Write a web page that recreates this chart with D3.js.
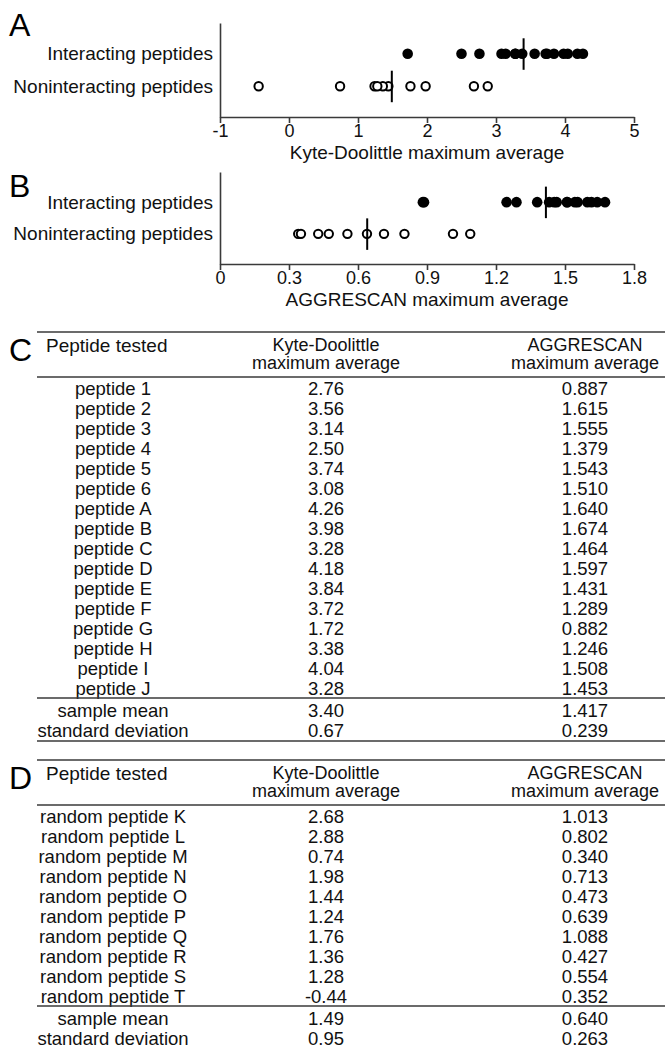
<!DOCTYPE html>
<html>
<head>
<meta charset="utf-8">
<script src="https://cdn.jsdelivr.net/npm/d3@7/dist/d3.min.js"></script>
<style>
  body { margin: 0; background: #fff; }
  svg { display: block; font-family: "Liberation Sans", Arial, sans-serif; }
</style>
</head>
<body>
<div id="figura"></div>
<script>
// categorias dos graficos A e B
const categorias = ["Interacting peptides", "Noninteracting peptides"];

// peptideos que interagem (tabela C)
const nomesInteragem = ["peptide 1", "peptide 2", "peptide 3", "peptide 4", "peptide 5", "peptide 6",
    "peptide A", "peptide B", "peptide C", "peptide D", "peptide E", "peptide F",
    "peptide G", "peptide H", "peptide I", "peptide J"];
const kdInteragem = [2.76, 3.56, 3.14, 2.50, 3.74, 3.08, 4.26, 3.98, 3.28, 4.18, 3.84, 3.72, 1.72, 3.38, 4.04, 3.28];
const aggInteragem = [0.887, 1.615, 1.555, 1.379, 1.543, 1.510, 1.640, 1.674, 1.464, 1.597, 1.431, 1.289, 0.882, 1.246, 1.508, 1.453];

// peptideos aleatorios (tabela D)
const nomesAleatorios = ["random peptide K", "random peptide L", "random peptide M", "random peptide N",
    "random peptide O", "random peptide P", "random peptide Q", "random peptide R",
    "random peptide S", "random peptide T"];
const kdAleatorios = [2.68, 2.88, 0.74, 1.98, 1.44, 1.24, 1.76, 1.36, 1.28, -0.44];
const aggAleatorios = [1.013, 0.802, 0.340, 0.713, 0.473, 0.639, 1.088, 0.427, 0.554, 0.352];

// linhas de resumo
const resumoRotulos = ["sample mean", "standard deviation"];
const kdResumoInteragem = [3.40, 0.67];
const aggResumoInteragem = [1.417, 0.239];
const kdResumoAleatorios = [1.49, 0.95];
const aggResumoAleatorios = [0.640, 0.263];

// ticks dos eixos
const kdTicks = [-1, 0, 1, 2, 3, 4, 5];
const aggTicks = [0, 0.3, 0.6, 0.9, 1.2, 1.5, 1.8];

const largura = 665;
const altura = 1051;
const corEixo = "#3a3a3a";

const svg = d3.select("#figura")
    .append("svg")
    .attr("width", largura)
    .attr("height", altura)
    .style("background", "#fff");

// grafico de pontos (A e B)
function criarDotPlot(letra, yLetra, topo, base, dominio, ticks, titulo, valores, medias) {
    const x = d3.scaleLinear().domain(dominio).range([220, 634]);
    const y = d3.scalePoint().domain(categorias).range([topo, base]).padding(0.95);

    svg.append("text")
        .attr("x", 9)
        .attr("y", yLetra)
        .style("font-size", "32px")
        .text(letra);

    // eixo y so com os rotulos
    const eixoY = svg.append("g")
        .attr("transform", `translate(${x.range()[0]},0)`)
        .call(d3.axisLeft(y).tickSize(0).tickPadding(7));
    eixoY.select(".domain").attr("stroke", corEixo).attr("stroke-width", 1.6);
    eixoY.selectAll("text")
        .attr("fill", "#111")
        .style("font-size", "19px")
        .style("font-family", "'Liberation Sans', Arial, sans-serif");

    // eixo x
    const eixoX = svg.append("g")
        .attr("transform", `translate(0,${base})`)
        .call(d3.axisBottom(x).tickValues(ticks).tickFormat(d => String(d)).tickSize(6).tickSizeOuter(0).tickPadding(1));
    eixoX.select(".domain").attr("stroke", corEixo).attr("stroke-width", 1.6);
    eixoX.selectAll(".tick line").attr("stroke", corEixo).attr("stroke-width", 1.6);
    eixoX.selectAll("text")
        .attr("fill", "#111")
        .style("font-size", "18px")
        .style("font-family", "'Liberation Sans', Arial, sans-serif");

    svg.append("text")
        .attr("x", (x.range()[0] + x.range()[1]) / 2)
        .attr("y", base + 42)
        .attr("text-anchor", "middle")
        .attr("fill", "#111")
        .style("font-size", "19px")
        .text(titulo);

    // pontos cheios = interagem, vazios = nao interagem
    svg.selectAll(null)
        .data(valores[0])
        .enter()
        .append("circle")
        .attr("cx", d => x(d))
        .attr("cy", y(categorias[0]))
        .attr("r", 5.3)
        .attr("fill", "#000");

    svg.selectAll(null)
        .data(valores[1])
        .enter()
        .append("circle")
        .attr("cx", d => x(d))
        .attr("cy", y(categorias[1]))
        .attr("r", 4.2)
        .attr("fill", "#fff")
        .attr("stroke", "#000")
        .attr("stroke-width", 2);

    // linha da media
    svg.selectAll(null)
        .data(medias)
        .enter()
        .append("line")
        .attr("x1", d => x(d))
        .attr("x2", d => x(d))
        .attr("y1", (d, i) => y(categorias[i]) - 15.5)
        .attr("y2", (d, i) => y(categorias[i]) + 16)
        .attr("stroke", "#000")
        .attr("stroke-width", 2);
}

// tabelas C e D
function criarTabela(letra, y0, nomes, kd, agg, resumoKd, resumoAgg, linhaFinal) {
    const colX = { nome: 113, kd: 326, agg: 585 };
    const esquerda = 37;

    svg.append("text")
        .attr("x", 9)
        .attr("y", y0 + 29)
        .style("font-size", "32px")
        .text(letra);

    const regra = yy => svg.append("line")
        .attr("x1", esquerda).attr("x2", largura)
        .attr("y1", yy).attr("y2", yy)
        .attr("stroke", corEixo).attr("stroke-width", 1.6);

    regra(y0);

    const cabecalho = svg.append("g").attr("fill", "#111").style("font-size", "18px");
    cabecalho.append("text").attr("x", 46).attr("y", y0 + 13).attr("dominant-baseline", "central")
        .style("font-size", "19px").text("Peptide tested");
    [["kd", "Kyte-Doolittle"], ["agg", "AGGRESCAN"]].forEach(([k, t]) => {
        cabecalho.append("text").attr("x", colX[k]).attr("y", y0 + 13).attr("text-anchor", "middle")
            .attr("dominant-baseline", "central").text(t);
        cabecalho.append("text").attr("x", colX[k]).attr("y", y0 + 31).attr("text-anchor", "middle")
            .attr("dominant-baseline", "central").text("maximum average");
    });

    regra(y0 + 45);

    const y = d3.scalePoint().domain(nomes).range([y0 + 56, y0 + 56 + (nomes.length - 1) * 20]);
    const linhas = nomes.map((n, i) => ({ nome: n, kd: kd[i].toFixed(2), agg: agg[i].toFixed(3) }));

    const corpo = svg.append("g").attr("fill", "#111").style("font-size", "18.5px");
    const grupos = corpo.selectAll("g")
        .data(linhas)
        .enter()
        .append("g")
        .attr("transform", d => `translate(0,${y(d.nome)})`);
    ["nome", "kd", "agg"].forEach(k => {
        grupos.append("text")
            .attr("x", colX[k])
            .attr("text-anchor", "middle")
            .attr("dominant-baseline", "central")
            .text(d => d[k]);
    });

    const yRegra = y(nomes[nomes.length - 1]) + 10;
    regra(yRegra);

    const yr = d3.scalePoint().domain(resumoRotulos).range([yRegra + 12, yRegra + 32]);
    const resumo = resumoRotulos.map((n, i) => ({ nome: n, kd: resumoKd[i].toFixed(2), agg: resumoAgg[i].toFixed(3) }));
    const gr = corpo.selectAll(".resumo")
        .data(resumo)
        .enter()
        .append("g")
        .attr("class", "resumo")
        .attr("transform", d => `translate(0,${yr(d.nome)})`);
    ["nome", "kd", "agg"].forEach(k => {
        gr.append("text")
            .attr("x", colX[k])
            .attr("text-anchor", "middle")
            .attr("dominant-baseline", "central")
            .text(d => d[k]);
    });

    if (linhaFinal) regra(yRegra + 43);
}

criarDotPlot("A", 36, 23, 117, [-1, 5], kdTicks, "Kyte-Doolittle maximum average",
    [kdInteragem, kdAleatorios], [kdResumoInteragem[0], kdResumoAleatorios[0]]);
criarDotPlot("B", 197, 172, 264, [0, 1.8], aggTicks, "AGGRESCAN maximum average",
    [aggInteragem, aggAleatorios], [aggResumoInteragem[0], aggResumoAleatorios[0]]);

criarTabela("C", 332, nomesInteragem, kdInteragem, aggInteragem, kdResumoInteragem, aggResumoInteragem, true);
criarTabela("D", 760, nomesAleatorios, kdAleatorios, aggAleatorios, kdResumoAleatorios, aggResumoAleatorios, false);
</script>
</body>
</html>
